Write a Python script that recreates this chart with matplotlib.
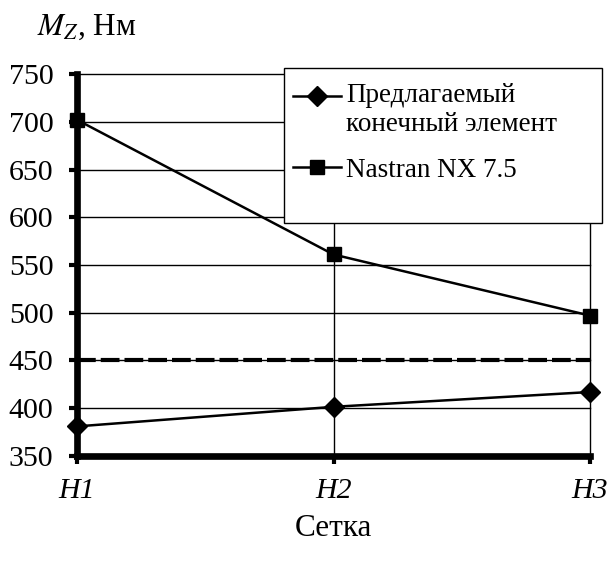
import matplotlib
matplotlib.use('Agg')
import matplotlib.pyplot as plt
from matplotlib.patches import Rectangle
from matplotlib.legend_handler import HandlerLine2D

# Данные
grids = ['H1', 'H2', 'H3']
proposed = [381, 401.5, 417]
nastran = [702, 561, 497]
analytic = [450, 450, 450]
yticks = [350, 400, 450, 500, 550, 600, 650, 700, 750]

plt.rcParams['font.family'] = ['Liberation Serif', 'DejaVu Serif']


class HandlerFirstLine(HandlerLine2D):
    # маркер на уровне первой строки подписи
    def __init__(self, shift, **kw):
        super().__init__(**kw)
        self.shift = shift

    def create_artists(self, legend, orig_handle, xdescent, ydescent, width, height, fontsize, trans):
        return super().create_artists(legend, orig_handle, xdescent, ydescent - self.shift,
                                      width, height, fontsize, trans)


fig = plt.figure(figsize=(6.07, 5.62), dpi=100)
ax = fig.add_axes([77 / 607, 1 - 456 / 562, (590 - 77) / 607, (456 - 74) / 562])

x = list(range(len(grids)))

for y in yticks[1:]:
    ax.axhline(y, color='black', lw=1, zorder=1, clip_on=False)
for xi in x[1:]:
    ax.axvline(xi, color='black', lw=1, zorder=1, clip_on=False)

l1, = ax.plot(x, proposed, color='black', lw=1.8, marker='D', markersize=10, zorder=3, clip_on=False)
l2, = ax.plot(x, nastran, color='black', lw=1.8, marker='s', markersize=10, zorder=3, clip_on=False)
ax.plot(x, analytic, color='black', lw=3, dashes=(4.5, 1.2), zorder=2, clip_on=False)

ax.set_xlim(0, 2)
ax.set_ylim(350, 750)
ax.set_yticks(yticks)
ax.set_xticks(x)
ax.set_xticklabels(grids, style='italic')
ax.tick_params(axis='both', labelsize=21.5, length=6, width=3, direction='out', color='black')
ax.tick_params(axis='y', pad=11)
ax.tick_params(axis='x', pad=10)

ax.spines['top'].set_visible(False)
ax.spines['right'].set_visible(False)
ax.spines['left'].set_linewidth(4.8)
ax.spines['bottom'].set_linewidth(4.8)
ax.spines['left'].set_zorder(4)
ax.spines['bottom'].set_zorder(4)

# рамка легенды
box = Rectangle((284 / 607, 1 - 223 / 562), 318 / 607, 155 / 562, transform=fig.transFigure,
                facecolor='white', edgecolor='black', lw=1, zorder=4.5, clip_on=False)
ax.add_patch(box)

leg = ax.legend([l1, l2], ['Предлагаемый\nконечный элемент', 'Nastran NX 7.5'],
                loc='upper left', bbox_to_anchor=(278 / 607, 1 - 68 / 562),
                bbox_transform=fig.transFigure, fontsize=19.5, frameon=False,
                handlelength=1.75, handletextpad=0.2, borderpad=0.57, labelspacing=0.75,
                borderaxespad=0,
                handler_map={l1: HandlerFirstLine(shift=20)})
leg.set_zorder(5)

fig.text(37 / 607, 1 - 27 / 562, r'$M_Z$, Нм', fontsize=22.5, ha='left', va='center',
         math_fontfamily='stix')
fig.text(333 / 607, 1 - 528 / 562, 'Сетка', fontsize=22.5, ha='center', va='center')

fig.savefig('out.png', dpi=100)
